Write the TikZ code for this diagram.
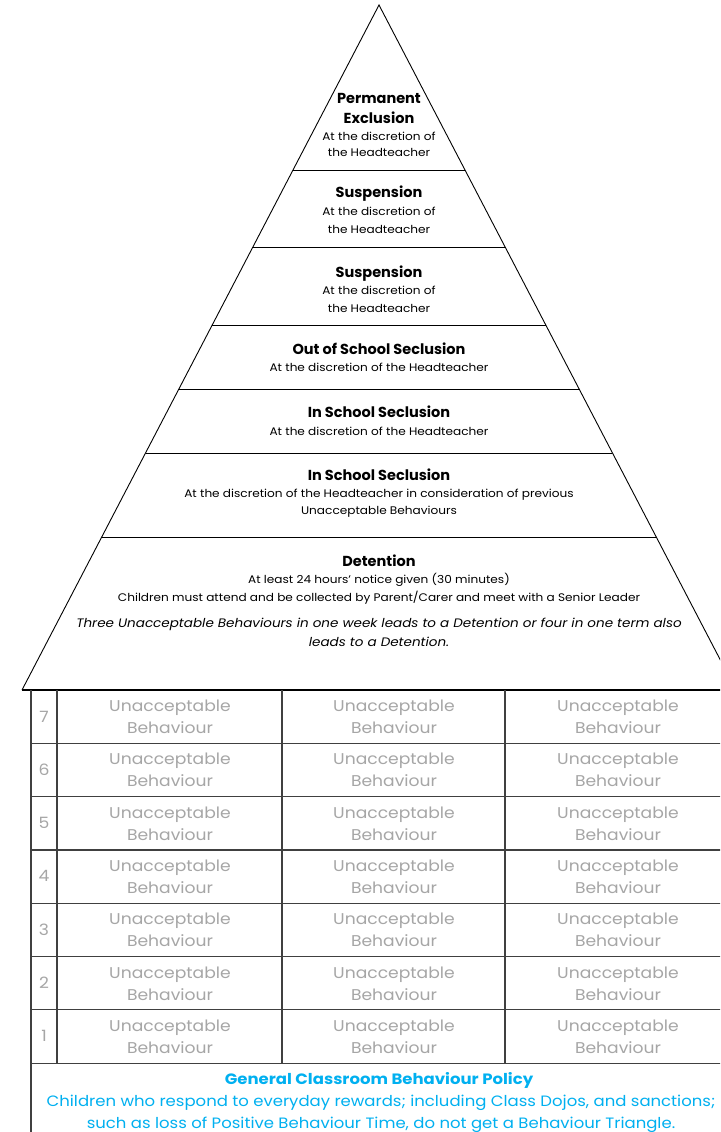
\documentclass[tikz,border=0pt]{standalone}
\usepackage{fontspec}
\setmainfont{Poppins}
\newfontfamily\widefont[FakeStretch=1.1]{Poppins}
\usetikzlibrary{calc}
\definecolor{ubgray}{HTML}{A6A6A6}
\definecolor{policy}{HTML}{00B0F0}
\definecolor{rule}{HTML}{404040}
\tikzset{
  head/.style={anchor=base,inner sep=0pt,font=\fontsize{14.5}{17}\selectfont\bfseries},
  sub/.style={anchor=base,inner sep=0pt,font=\widefont\fontsize{11}{13}\selectfont},
  note/.style={anchor=base,inner sep=0pt,font=\widefont\fontsize{12.3}{14}\selectfont\itshape},
  ub/.style={anchor=base,inner sep=0pt,text=ubgray,font=\widefont\fontsize{15.6}{18}\selectfont},
  num/.style={anchor=base,inner sep=0pt,text=ubgray,font=\widefont\fontsize{15.6}{18}\selectfont},
  pol/.style={anchor=base,inner sep=0pt,text=policy,font=\widefont\fontsize{15}{18}\selectfont},
  polhead/.style={pol,font=\widefont\fontsize{15}{18}\selectfont\bfseries},
  pyr/.style={draw=black,line width=0.9pt},
  grid/.style={draw=rule,line width=1.2pt},
}
\begin{document}
\begin{tikzpicture}[x=1pt,y=-1pt]
\useasboundingbox (0,0) rectangle (720,1132);
\clip (0,0) rectangle (720,1132);
\fill[white] (0,0) rectangle (720,1132);
% pyramid
\coordinate (A) at (379,5);
\coordinate (L) at (22,690);
\coordinate (R) at (736,690);
\draw[pyr] (L) -- (A) -- (R);
\foreach \t/\n in {0.2409/s1,0.3533/s2,0.4672/s3,0.5606/s4,0.6540/s5,0.7766/s6}{
  \coordinate (\n l) at ($(A)!\t!(L)$);
  \coordinate (\n r) at ($(A)!\t!(R)$);
  \draw[pyr] (\n l) -- (\n r);
}
% tier texts
\node[head] (p1) at (379,103) {Permanent};
\node[head] (p2) at (379,123) {Exclusion};
\node[sub] (p3) at (379,140) {At the discretion of};
\node[sub] (p4) at (379,156) {the Headteacher};
\node[head] (q1) at (379,197) {Suspension};
\node[sub] (q2) at (379,215) {At the discretion of};
\node[sub] (q3) at (379,233) {the Headteacher};
\node[head] (r1) at (379,277) {Suspension};
\node[sub] (r2) at (379,294) {At the discretion of};
\node[sub] (r3) at (379,312) {the Headteacher};
\node[head] (o1) at (379,354) {Out of School Seclusion};
\node[sub] (o2) at (379,371) {At the discretion of the Headteacher};
\node[head] (i1) at (379,417) {In School Seclusion};
\node[sub] (i2) at (379,435) {At the discretion of the Headteacher};
\node[head] (j1) at (379,480) {In School Seclusion};
\node[sub] (j2) at (379,497) {At the discretion of the Headteacher in consideration of previous};
\node[sub] (j3) at (379,514) {Unacceptable Behaviours};
\node[head] (d1) at (379,566) {Detention};
\node[sub] (d2) at (379,583) {At least 24 hours’ notice given (30 minutes)};
\node[sub] (d3) at (379,601) {Children must attend and be collected by Parent/Carer and meet with a Senior Leader};
\node[note] (d4) at (379,627.5) {Three Unacceptable Behaviours in one week leads to a Detention or four in one term also};
\node[note] (d5) at (379,646) {leads to a Detention.};
% table
\draw[draw=black,line width=2pt] (22,690) -- (731,690);
\foreach \k in {1,...,7}{
  \pgfmathsetmacro{\yy}{690+\k*53.3}
  \draw[grid] (31,\yy) -- (731,\yy);
}
\draw[grid] (31,690) -- (31,1140);
\draw[grid] (57,690) -- (57,1063.1);
\draw[grid] (282,690) -- (282,1063.1);
\draw[grid] (505,690) -- (505,1063.1);
\foreach \r in {1,...,7}{
  \pgfmathsetmacro{\yb}{690+(7-\r)*53.3}
  \node[num] (n\r) at (44,\yb+32) {\r};
  \node[ub] (a\r) at (170,\yb+21.5) {Unacceptable};
  \node[ub] (b\r) at (170,\yb+43.5) {Behaviour};
  \node[ub] (c\r) at (394,\yb+21.5) {Unacceptable};
  \node[ub] (e\r) at (394,\yb+43.5) {Behaviour};
  \node[ub] (f\r) at (618,\yb+21.5) {Unacceptable};
  \node[ub] (g\r) at (618,\yb+43.5) {Behaviour};
}
% footer
\node[polhead] (f1) at (379,1084.5) {General Classroom Behaviour Policy};
\node[pol] (f2) at (381,1106.5) {Children who respond to everyday rewards; including Class Dojos, and sanctions;};
\node[pol] (f3) at (381,1128) {such as loss of Positive Behaviour Time, do not get a Behaviour Triangle.};
\end{tikzpicture}
\end{document}
